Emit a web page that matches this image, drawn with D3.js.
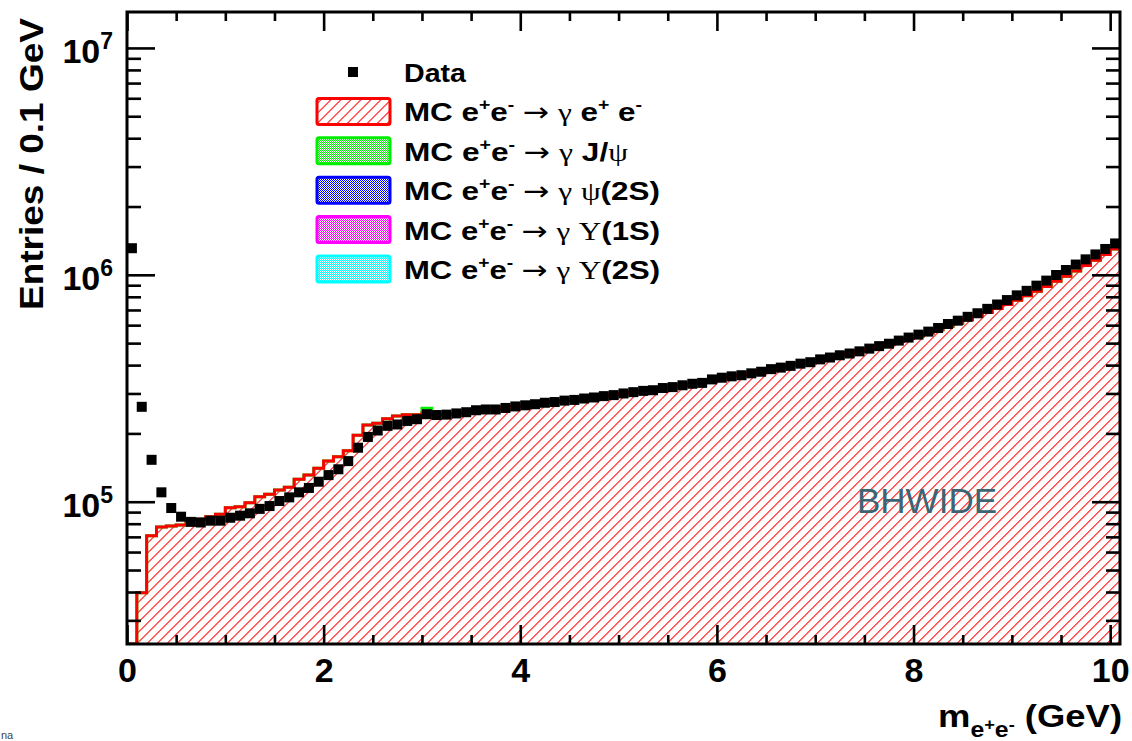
<!DOCTYPE html>
<html>
<head>
<meta charset="utf-8">
<script src="https://cdn.jsdelivr.net/npm/d3@7"></script>
<style>
  body { margin: 0; background: #fff; }
  svg text { white-space: pre; }
</style>
</head>
<body>
<svg id="chart" width="1132" height="741"></svg>
<script>
// Binning: 0.1 GeV bins from 0 to 10.1 GeV.
const binWidth = 0.1;
const xDomain = [0, 10.1];
const yDomain = [2.36e4, 1.44e7];
const xMajorTicks = [0, 2, 4, 6, 8, 10];
const yMajorTicks = [1e5, 1e6, 1e7];

// Data entries per bin.
const dataCounts = [
  1.31e6, 2.62e5, 1.53e5, 1.10e5, 9.38e4, 8.59e4, 8.15e4, 8.10e4, 8.25e4, 8.25e4,
  8.50e4, 8.68e4, 8.89e4, 9.30e4, 9.57e4, 1.007e5, 1.045e5, 1.10e5, 1.15e5, 1.225e5,
  1.31e5, 1.39e5, 1.51e5, 1.73e5, 1.93e5, 2.06e5, 2.16e5, 2.19e5, 2.27e5, 2.31e5,
  2.43e5, 2.41e5, 2.42e5, 2.45e5, 2.48e5, 2.53e5, 2.55e5, 2.55e5, 2.59e5, 2.63e5,
  2.66e5, 2.69e5, 2.73e5, 2.75e5, 2.79e5, 2.81e5, 2.85e5, 2.88e5, 2.92e5, 2.95e5,
  3.00e5, 3.04e5, 3.08e5, 3.10e5, 3.17e5, 3.20e5, 3.26e5, 3.31e5, 3.34e5, 3.46e5,
  3.52e5, 3.57e5, 3.61e5, 3.68e5, 3.74e5, 3.84e5, 3.90e5, 3.97e5, 4.06e5, 4.12e5,
  4.24e5, 4.32e5, 4.42e5, 4.50e5, 4.60e5, 4.73e5, 4.85e5, 4.97e5, 5.13e5, 5.29e5,
  5.45e5, 5.62e5, 5.83e5, 6.07e5, 6.28e5, 6.53e5, 6.77e5, 7.08e5, 7.40e5, 7.74e5,
  8.12e5, 8.50e5, 8.96e5, 9.43e5, 9.98e5, 1.05e6, 1.11e6, 1.17e6, 1.23e6, 1.30e6,
  1.375e6
];

// MC e+e- -> gamma e+ e- (BHWIDE) per bin.
const mcEE = [
  0, 3.97e4, 7.08e4, 7.74e4, 7.82e4, 7.90e4, 8.31e4, 8.37e4, 8.59e4, 8.80e4,
  9.41e4, 9.51e4, 9.90e4, 1.052e5, 1.078e5, 1.126e5, 1.157e5, 1.255e5, 1.311e5, 1.403e5,
  1.511e5, 1.578e5, 1.678e5, 1.961e5, 2.177e5, 2.215e5, 2.32e5, 2.385e5, 2.416e5, 2.42e5,
  2.46e5, 2.42e5, 2.43e5, 2.45e5, 2.48e5, 2.52e5, 2.55e5, 2.56e5, 2.59e5, 2.63e5,
  2.66e5, 2.70e5, 2.73e5, 2.76e5, 2.79e5, 2.82e5, 2.85e5, 2.89e5, 2.92e5, 2.96e5,
  3.00e5, 3.04e5, 3.08e5, 3.12e5, 3.17e5, 3.21e5, 3.26e5, 3.31e5, 3.36e5, 3.45e5,
  3.51e5, 3.57e5, 3.62e5, 3.69e5, 3.76e5, 3.84e5, 3.91e5, 3.99e5, 4.07e5, 4.15e5,
  4.25e5, 4.34e5, 4.43e5, 4.52e5, 4.62e5, 4.73e5, 4.84e5, 4.96e5, 5.10e5, 5.24e5,
  5.38e5, 5.54e5, 5.72e5, 5.92e5, 6.12e5, 6.34e5, 6.57e5, 6.82e5, 7.10e5, 7.40e5,
  7.72e5, 8.08e5, 8.47e5, 8.89e5, 9.36e5, 9.86e5, 1.04e6, 1.10e6, 1.16e6, 1.23e6,
  1.30e6
];

// Resonance samples: only the J/psi bin rises visibly above the BHWIDE histogram.
const jpsiBins = [30];
const jpsiCounts = [1.2e4];
const psi2SBins = [];
const psi2SCounts = [];
const ups1SBins = [];
const ups1SCounts = [];
const ups2SBins = [];
const ups2SCounts = [];

const frame = {left: 127, right: 1120, top: 12, bottom: 644};
const sans = '"Liberation Sans", Arial, Helvetica, sans-serif';
const serif = '"Liberation Serif", "Times New Roman", serif';
const svg = d3.select('#chart')
  .attr('font-family', sans)
  .attr('font-weight', 'bold');
const nBins = dataCounts.length;

const x = d3.scaleLinear().domain(xDomain).range([frame.left, frame.right]);
const y = d3.scaleLog().domain(yDomain).range([frame.bottom, frame.top]);

// Expand a sparse (bins, counts) pair into a full per-bin array.
function fullBins(bins, counts) {
  const out = new Array(nBins).fill(0);
  bins.forEach((b, i) => { out[b] = counts[i]; });
  return out;
}

const components = [
  {key: 'ee', counts: mcEE, color: '#ff0000', fill: 'url(#hatch)'},
  {key: 'jpsi', counts: fullBins(jpsiBins, jpsiCounts), color: '#00ee00', fill: 'url(#dots-jpsi)'},
  {key: 'psi2S', counts: fullBins(psi2SBins, psi2SCounts), color: '#0000ff', fill: 'url(#dots-psi2S)'},
  {key: 'ups1S', counts: fullBins(ups1SBins, ups1SCounts), color: '#ff00ff', fill: 'url(#dots-ups1S)'},
  {key: 'ups2S', counts: fullBins(ups2SBins, ups2SCounts), color: '#00ffff', fill: 'url(#dots-ups2S)'},
];

// Cumulative stack.
let running = new Array(nBins).fill(0);
components.forEach(c => {
  c.lower = running.slice();
  running = running.map((v, i) => v + c.counts[i]);
  c.upper = running.slice();
});

// ---- defs: clip and fill patterns ----
const defs = svg.append('defs');
defs.append('clipPath').attr('id', 'plotClip')
  .append('rect')
  .attr('x', frame.left).attr('y', frame.top)
  .attr('width', frame.right - frame.left)
  .attr('height', frame.bottom - frame.top);

// Red "/" hatching: thin vertical bars in a tile rotated by 45 degrees.
const hatch = defs.append('pattern').attr('id', 'hatch')
  .attr('patternUnits', 'userSpaceOnUse')
  .attr('width', 7.07).attr('height', 7.07)
  .attr('patternTransform', 'rotate(45)');
hatch.append('rect')
  .attr('x', 0).attr('y', 0)
  .attr('width', 1).attr('height', 7.07)
  .attr('fill', '#ff0000');

components.slice(1).forEach(c => {
  const p = defs.append('pattern').attr('id', 'dots-' + c.key)
    .attr('patternUnits', 'userSpaceOnUse')
    .attr('width', 2).attr('height', 2);
  p.append('rect').attr('width', 2).attr('height', 2).attr('fill', '#fff');
  p.append('rect').attr('width', 1).attr('height', 1).attr('fill', c.color);
  p.append('rect').attr('x', 1).attr('y', 1).attr('width', 1).attr('height', 1).attr('fill', c.color);
});

// ---- stacked histograms ----
const clampY = v => y(Math.max(v, yDomain[0]));
function stepPoints(lower, upper) {
  const pts = upper.map((v, i) => ({edge: i * binWidth, lo: lower[i], hi: v}));
  pts.push({edge: nBins * binWidth, lo: lower[nBins - 1], hi: upper[nBins - 1]});
  return pts;
}
const area = d3.area()
  .curve(d3.curveStepAfter)
  .x(d => x(d.edge))
  .y0(d => clampY(d.lo))
  .y1(d => clampY(d.hi));
const outline = d3.line()
  .curve(d3.curveStepAfter)
  .x(d => x(d.edge))
  .y(d => clampY(d.hi));

const plot = svg.append('g').attr('clip-path', 'url(#plotClip)');
const visible = components.filter(c => d3.max(c.counts) > 0);

visible.forEach(c => {
  plot.append('path')
    .datum(stepPoints(c.lower, c.upper))
    .attr('d', area)
    .attr('fill', c.fill);
});
// Outlines from the top of the stack down, so the lowest sample is drawn last.
visible.slice().reverse().forEach(c => {
  plot.append('path')
    .datum(stepPoints(c.lower, c.upper))
    .attr('d', outline)
    .attr('fill', 'none')
    .attr('stroke', c.color)
    .attr('stroke-width', 3);
});

// ---- data points ----
const marker = 10;
svg.append('g').selectAll('rect')
  .data(dataCounts)
  .join('rect')
  .attr('x', (d, i) => x((i + 0.5) * binWidth) - marker / 2)
  .attr('y', d => y(d) - marker / 2)
  .attr('width', marker).attr('height', marker)
  .attr('fill', '#000');

// ---- BHWIDE label ----
svg.append('text')
  .attr('x', 857).attr('y', 513)
  .attr('font-size', 35)
  .attr('font-weight', 'normal')
  .attr('fill', '#3d6472')
  .text('BHWIDE');

// ---- axes ----
const isMajorX = v => xMajorTicks.some(t => Math.abs(t - v) < 1e-6);
const xMinor = x.ticks(20).filter(v => !isMajorX(v));
const yMinor = y.ticks().filter(v => !yMajorTicks.some(t => Math.abs(t - v) / t < 1e-6));

function styleAxis(g) {
  g.attr('font-family', null).attr('font-size', null);
  g.select('.domain').remove();
  g.selectAll('.tick line').attr('stroke', '#000').attr('stroke-width', 2.6);
}

svg.append('g').attr('transform', `translate(0,${frame.bottom})`)
  .call(d3.axisBottom(x).tickValues(xMajorTicks).tickSize(-19).tickPadding(14).tickFormat(d3.format('d')))
  .call(styleAxis)
  .call(g => g.selectAll('.tick text').attr('font-size', 34).attr('fill', '#000'));
svg.append('g').attr('transform', `translate(0,${frame.bottom})`)
  .call(d3.axisBottom(x).tickValues(xMinor).tickSize(-9).tickFormat(''))
  .call(styleAxis);
svg.append('g').attr('transform', `translate(0,${frame.top})`)
  .call(d3.axisTop(x).tickValues(xMajorTicks).tickSize(-19).tickFormat(''))
  .call(styleAxis);
svg.append('g').attr('transform', `translate(0,${frame.top})`)
  .call(d3.axisTop(x).tickValues(xMinor).tickSize(-9).tickFormat(''))
  .call(styleAxis);

svg.append('g').attr('transform', `translate(${frame.left},0)`)
  .call(d3.axisLeft(y).tickValues(yMajorTicks).tickSize(-28).tickPadding(14).tickFormat(''))
  .call(styleAxis)
  .call(g => g.selectAll('.tick text').each(function(d) {
    const t = d3.select(this)
      .attr('font-size', 34).attr('fill', '#000').attr('dy', '0.44em');
    t.append('tspan').text('10');
    t.append('tspan').attr('font-size', 23).attr('dy', -14)
      .text(String(Math.round(Math.log10(d))));
  }));
svg.append('g').attr('transform', `translate(${frame.left},0)`)
  .call(d3.axisLeft(y).tickValues(yMinor).tickSize(-14).tickFormat(''))
  .call(styleAxis);
svg.append('g').attr('transform', `translate(${frame.right},0)`)
  .call(d3.axisRight(y).tickValues(yMajorTicks).tickSize(-28).tickFormat(''))
  .call(styleAxis);
svg.append('g').attr('transform', `translate(${frame.right},0)`)
  .call(d3.axisRight(y).tickValues(yMinor).tickSize(-14).tickFormat(''))
  .call(styleAxis);

// Frame
svg.append('rect')
  .attr('x', frame.left).attr('y', frame.top)
  .attr('width', frame.right - frame.left)
  .attr('height', frame.bottom - frame.top)
  .attr('fill', 'none').attr('stroke', '#000').attr('stroke-width', 3);

// ---- rich text helper (ROOT TLatex style) ----
function richText(parent, parts, size) {
  const t = parent.append('text').attr('font-size', size).attr('fill', '#000');
  let shift = 0;
  parts.forEach(p => {
    const target = (p.shift || 0) * size;
    const span = t.append('tspan').attr('dy', target - shift).text(p.t);
    shift = target;
    if (p.scale) span.attr('font-size', size * p.scale);
    if (p.greek) span.attr('font-family', serif).attr('font-weight', 'normal');
    if (p.arrow) span.attr('font-family', '"DejaVu Sans", sans-serif').attr('font-weight', 'normal');
  });
  return t;
}

// ---- axis titles ----
svg.append('text')
  .attr('transform', 'translate(43,18) rotate(-90)')
  .attr('text-anchor', 'end')
  .attr('font-size', 33)
  .attr('textLength', 292).attr('lengthAdjust', 'spacingAndGlyphs')
  .attr('fill', '#000')
  .text('Entries / 0.1 GeV');

const xTitle = svg.append('g').attr('transform', 'translate(1122,727)');
richText(xTitle, [
  {t: 'm'},
  {t: 'e', shift: 0.3, scale: 0.68},
  {t: '+', shift: 0.08, scale: 0.5},
  {t: 'e', shift: 0.3, scale: 0.68},
  {t: '-', shift: 0.08, scale: 0.5},
  {t: ' (GeV)', shift: 0},
], 32)
  .attr('text-anchor', 'end')
  .attr('textLength', 184).attr('lengthAdjust', 'spacingAndGlyphs');

// ---- legend ----
const sup = s => ({t: s, shift: -0.42, scale: 0.62});
const head = [{t: 'MC e'}, sup('+'), {t: 'e'}, sup('-'), {t: ' '}, {t: '\u2192', arrow: true}, {t: ' '}, {t: '\u03b3', greek: true}];
const legendLabels = {
  ee: head.concat([{t: ' e'}, sup('+'), {t: ' e'}, sup('-')]),
  jpsi: head.concat([{t: ' J/'}, {t: '\u03c8', greek: true}]),
  psi2S: head.concat([{t: ' '}, {t: '\u03c8', greek: true}, {t: '(2S)'}]),
  ups1S: head.concat([{t: ' '}, {t: '\u03a5', greek: true}, {t: '(1S)'}]),
  ups2S: head.concat([{t: ' '}, {t: '\u03a5', greek: true}, {t: '(2S)'}]),
};
// Rendered widths of the legend labels in the original.
const legendWidths = {data: 62, ee: 238, jpsi: 224, psi2S: 256, ups1S: 256, ups2S: 256};
const legendX = {box0: 317, box1: 390, text: 404, marker: 353};
const legendRowY = d3.scalePoint().domain(['data'].concat(components.map(c => c.key)))
  .range([72, 269]);
const legend = svg.append('g');

legend.append('rect')
  .attr('x', legendX.marker - 5).attr('y', legendRowY('data') - 5)
  .attr('width', 10).attr('height', 10).attr('fill', '#000');
richText(legend.append('g').attr('transform', `translate(${legendX.text},${legendRowY('data') + 10})`),
  [{t: 'Data'}], 26)
  .attr('textLength', legendWidths.data).attr('lengthAdjust', 'spacingAndGlyphs');

components.forEach(c => {
  const cy = legendRowY(c.key);
  legend.append('rect')
    .attr('x', legendX.box0).attr('y', cy - 13)
    .attr('width', legendX.box1 - legendX.box0).attr('height', 26)
    .attr('rx', 2)
    .attr('fill', c.fill).attr('stroke', c.color).attr('stroke-width', 3);
  const g = legend.append('g').attr('transform', `translate(${legendX.text},${cy + 10})`);
  richText(g, legendLabels[c.key], 26)
    .attr('textLength', legendWidths[c.key]).attr('lengthAdjust', 'spacingAndGlyphs');
});

// Cut-off text at the bottom-left corner of the original canvas.
svg.append('text')
  .attr('x', 1).attr('y', 739)
  .attr('font-size', 11).attr('font-weight', 'normal').attr('fill', '#444')
  .text('na');
</script>
</body>
</html>
